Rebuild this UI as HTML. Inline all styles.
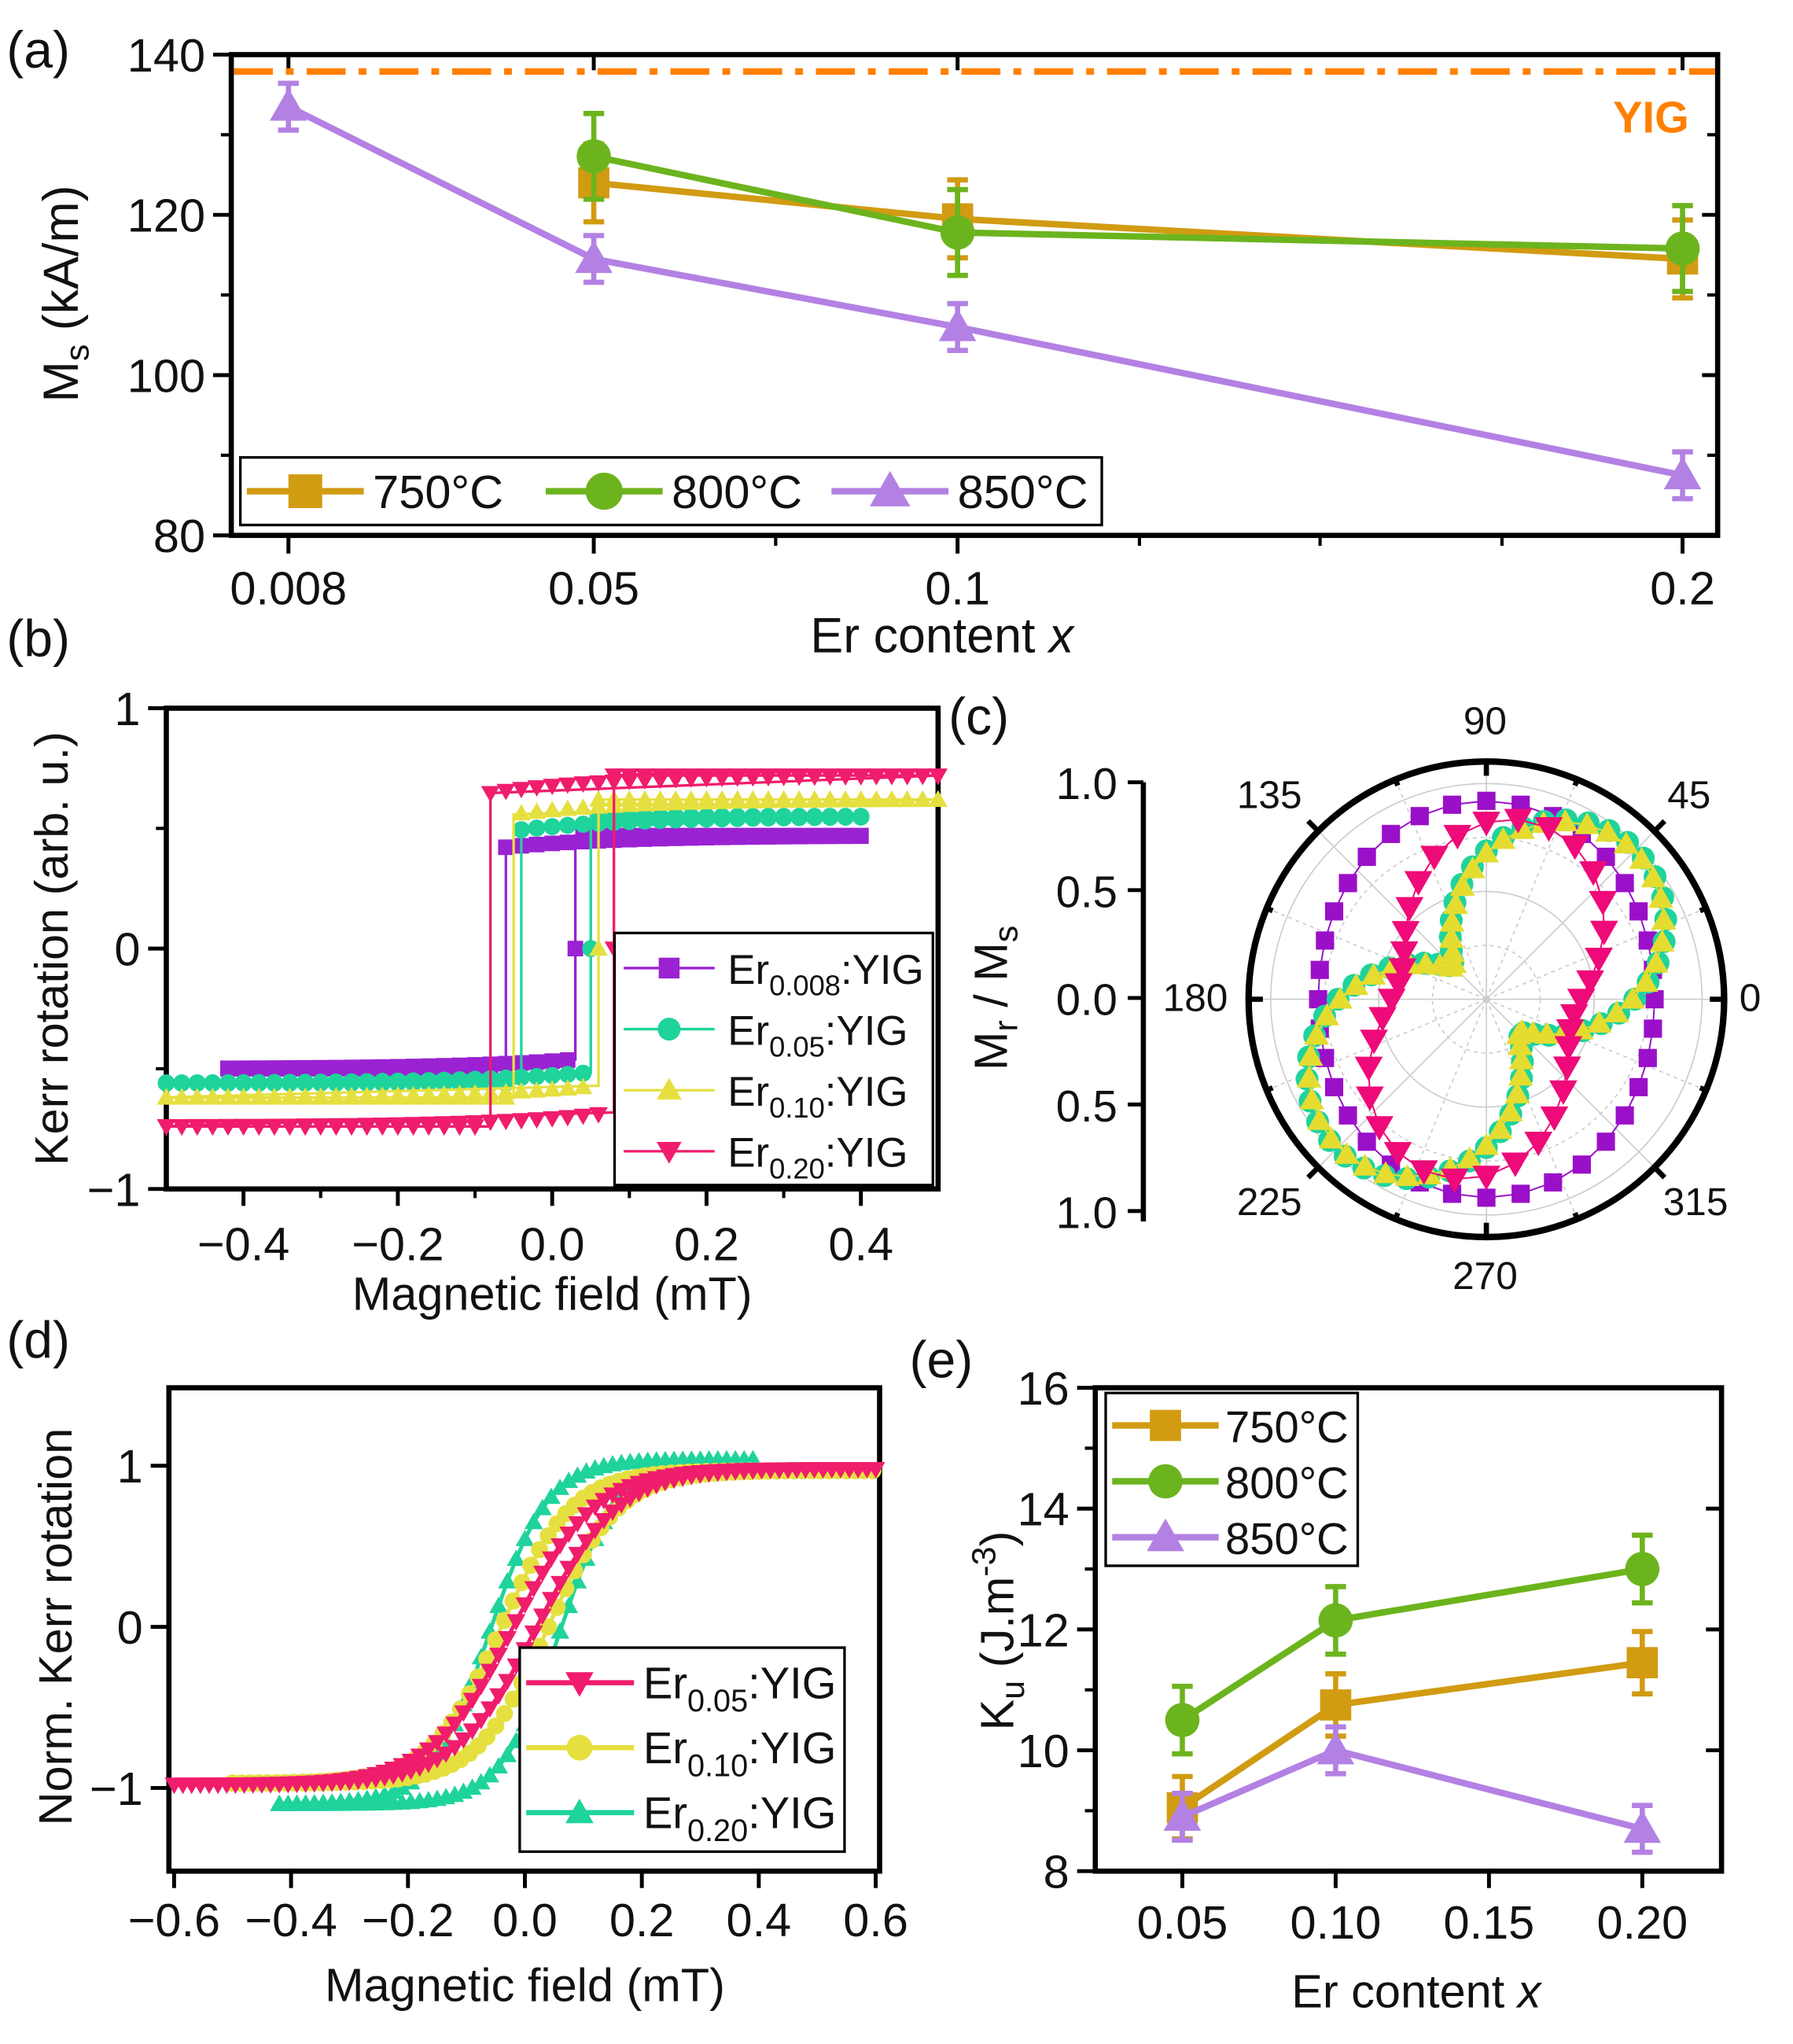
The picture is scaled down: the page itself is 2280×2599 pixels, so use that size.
<!DOCTYPE html>
<html><head><meta charset="utf-8"><style>
html,body{margin:0;padding:0;background:#fff;}
svg{display:block;font-family:"Liberation Sans",Arial,sans-serif;}
</style></head><body>
<svg id="s" width="2280" height="2599" viewBox="0 0 1380 1573" xmlns="http://www.w3.org/2000/svg"></svg>
<script>
const S=document.getElementById('s');
function E(t,a,txt){const e=document.createElementNS('http://www.w3.org/2000/svg',t);for(const k in a)e.setAttribute(k,a[k]);if(txt!==undefined)e.textContent=txt;S.appendChild(e);return e;}
function T(x,y,s,txt,anchor,extra){return E('text',Object.assign({x:x,y:y,'font-size':s,'text-anchor':anchor||'middle',fill:'#111'},extra||{}),txt);}
function L(x1,y1,x2,y2,c,w,extra){return E('line',Object.assign({x1,y1,x2,y2,stroke:c||'#000','stroke-width':w||3},extra||{}));}
function mk(type,x,y,r,c){
 if(type=='s')E('rect',{x:x-r,y:y-r,width:2*r,height:2*r,fill:c});
 else if(type=='c')E('circle',{cx:x,cy:y,r:r*1.1,fill:c});
 else if(type=='t')E('polygon',{points:`${x},${y-r*1.2} ${x-r*1.2},${y+r*0.9} ${x+r*1.2},${y+r*0.9}`,fill:c});
 else E('polygon',{points:`${x},${y+r*1.2} ${x-r*1.2},${y-r*0.9} ${x+r*1.2},${y-r*0.9}`,fill:c});
}
function poly(pts,c,w){E('polyline',{points:pts.map(p=>p.join(',')).join(' '),fill:'none',stroke:c,'stroke-width':w||2});}
function box(x1,y1,x2,y2,w){E('rect',{x:x1,y:y1,width:x2-x1,height:y2-y1,fill:'none',stroke:'#000','stroke-width':w||4});}
const GOLD='#d19b12',GRN='#6cb41e',PUR='#b381e3';
/* ===== (a) ===== */
T(5,52,40,'(a)','start');
const ay=v=>412-(v-80)*6.167;
box(178,42,1322,412);
[[222,'0.008'],[457,'0.05'],[737,'0.1'],[1295,'0.2']].forEach(([x,t])=>{L(x,412,x,426);L(x,42,x,54);T(x,465,36,t);});
[597,877,1016,1156].forEach(x=>{L(x,412,x,420,'#000',2.5);});
[80,100,120,140].forEach(v=>{L(164,ay(v),178,ay(v));L(1310,ay(v),1322,ay(v));T(158,ay(v)+13,36,String(v),'end');});
[90,110,130].forEach(v=>{L(170,ay(v),178,ay(v),'#000',2.5);L(1314,ay(v),1322,ay(v),'#000',2.5);});
L(180,55,1320,55,'#ff8000',5,{'stroke-dasharray':'30,10,6,10'});
T(1300,102,34,'YIG','end',{fill:'#ff8000','font-weight':'bold'});
E('text',{x:725,y:502,'font-size':38,'text-anchor':'middle',fill:'#111'}).innerHTML='Er content <tspan font-style="italic">x</tspan>';
E('text',{x:60,y:226,'font-size':38,'text-anchor':'middle',transform:'rotate(-90 60 226)',fill:'#111'}).innerHTML='M<tspan font-size="26" dy="8">s</tspan><tspan dy="-8"> (kA/m)</tspan>';
const xa=[457,737,1295];
function series(xs,ys,c,m,err){poly(xs.map((x,i)=>[x,ys[i]]),c,5);xs.forEach((x,i)=>{L(x,ys[i]-err,x,ys[i]+err,c,4);L(x-8,ys[i]-err,x+8,ys[i]-err,c,4);L(x-8,ys[i]+err,x+8,ys[i]+err,c,4);mk(m,x,ys[i],12,c);});}
series(xa,[124,119.5,114.5].map(ay),GOLD,'s',30);
series(xa,[127.3,117.8,115.8].map(ay),GRN,'c',33);
series([222,457,737,1295],[133.5,114.5,106,87.5].map(ay),PUR,'t',18);
E('rect',{x:185,y:352,width:663,height:52,fill:'#fff',stroke:'#000','stroke-width':2});
[[GOLD,'s','750°C',190],[GRN,'c','800°C',420],[PUR,'t','850°C',640]].forEach(([c,m,t,x])=>{L(x,378,x+90,378,c,5);mk(m,x+45,378,13,c);T(x+97,391,36,t,'start');});
/* ===== (b) ===== */
T(5,505,40,'(b)','start');
const bx=v=>425+v*594, by=v=>730-185*v;
box(128,545,722,915);
[-0.4,-0.2,0,0.2,0.4].forEach(v=>{L(bx(v),915,bx(v),928);T(bx(v),970,36,(v<0?'−':'')+Math.abs(v).toFixed(1));});
[-0.3,-0.1,0.1,0.3].forEach(v=>L(bx(v),915,bx(v),922,'#000',2.5));
[[1,'1'],[0,'0'],[-1,'−1']].forEach(([v,t])=>{L(114,by(v),128,by(v));T(108,by(v)+13,36,t,'end');});
[0.5,-0.5].forEach(v=>L(120,by(v),128,by(v),'#000',2.5));
T(425,1008,36,'Magnetic field (mT)');
E('text',{x:52,y:730,'font-size':36,'text-anchor':'middle',transform:'rotate(-90 52 730)',fill:'#111'},'Kerr rotation (arb. u.)');
const loops=[
 {c:'#9a22d2',m:'s',lo:-0.5,hi:0.47,up:0.03,dn:-0.06,a:-0.42,b:0.40},
 {c:'#1fd39c',m:'c',lo:-0.56,hi:0.55,up:0.05,dn:-0.04,a:-0.5,b:0.40},
 {c:'#e5e040',m:'t',lo:-0.62,hi:0.62,up:0.06,dn:-0.05,a:-0.5,b:0.5},
 {c:'#f01c6c',m:'d',lo:-0.74,hi:0.72,up:0.08,dn:-0.08,a:-0.5,b:0.5}];
loops.forEach(o=>{
 const hiv=x=>o.hi-(o.hi-o.lo)*0.05*Math.exp(-(x-o.dn)/0.15);
 const lov=x=>o.lo+(o.hi-o.lo)*0.04*Math.exp((x-o.up)/0.15);
 poly([[bx(o.a),by(lov(o.a))],[bx(o.up),by(lov(o.up))],[bx(o.up),by(o.hi)],[bx(o.b),by(o.hi)]],o.c,2);
 poly([[bx(o.b),by(o.hi)],[bx(o.dn),by(hiv(o.dn))],[bx(o.dn),by(o.lo)],[bx(o.a),by(o.lo)]],o.c,2);
 for(let x=o.a;x<=o.b+1e-6;x+=0.02){
  mk(o.m,bx(x),by(x<o.up?lov(x):o.hi),6,o.c);
  mk(o.m,bx(x),by(x>o.dn?hiv(x):o.lo),6,o.c);
 }
 mk(o.m,bx((o.up)),by(0),6,o.c);
});
E('rect',{x:473,y:718,width:245,height:194,fill:'#fff',stroke:'#000','stroke-width':2});
[['0.008',0],['0.05',1],['0.10',2],['0.20',3]].forEach(([t,i])=>{const o=loops[i],y=745+i*47;L(480,y,550,y,o.c,2);mk(o.m,515,y,8,o.c);
 E('text',{x:560,y:y+12,'font-size':32,fill:'#111'}).innerHTML='Er<tspan font-size="22" dy="9">'+t+'</tspan><tspan dy="-9">:YIG</tspan>';});
/* ===== (c) ===== */
T(730,565,40,'(c)','start');
const cx=1144,cy=769,R=166,RO=183;
L(880,602,880,940,'#000',4);
[[602,'1.0'],[685,'0.5'],[768,'0.0'],[850,'0.5'],[932,'1.0']].forEach(([y,t])=>{L(868,y,880,y);T(860,y+13,34,t,'end');});
E('text',{x:775,y:768,'font-size':36,'text-anchor':'middle',transform:'rotate(-90 775 768)',fill:'#111'}).innerHTML='M<tspan font-size="26" dy="8">r</tspan><tspan dy="-8"> / M</tspan><tspan font-size="26" dy="8">s</tspan>';
[0.25,0.5,0.75,1].forEach((f,i)=>E('circle',Object.assign({cx,cy,r:R*f,fill:'none',stroke:'#ccc','stroke-width':1},i%2==0?{'stroke-dasharray':'3,3'}:{})));
for(let a=0;a<360;a+=22.5){const r=a*Math.PI/180;L(cx,cy,cx+RO*Math.cos(r),cy-RO*Math.sin(r),'#ccc',1,(a%45==0)?{}:{'stroke-dasharray':'3,3'});}
E('circle',{cx,cy,r:RO,fill:'none',stroke:'#000','stroke-width':5});
for(let a=0;a<360;a+=22.5){const r=a*Math.PI/180,l=(a%90==0)?-11:((a%45==0)?11:-5);L(cx+RO*Math.cos(r),cy-RO*Math.sin(r),cx+(RO+l)*Math.cos(r),cy-(RO+l)*Math.sin(r),'#000',4);}
[[1143,565,'90'],[1300,622,'45'],[1347,778,'0'],[1305,935,'315'],[1143,992,'270'],[977,935,'225'],[920,778,'180'],[977,622,'135']].forEach(([x,y,t])=>T(x,y,30,t));
const D=Math.PI/180;
function pol(f,c,m,step,ms){const pts=[];for(let a=0;a<360;a+=step){const r=a*D,v=f(r);pts.push([cx+R*v*Math.cos(r),cy-R*v*Math.sin(r)]);}pts.push(pts[0]);poly(pts,c,1.2);pts.slice(0,-1).forEach(p=>mk(m,p[0],p[1],ms,c));}
pol(r=>0.85+0.07*Math.cos(2*(r-90*D)),'#9a10c8','s',10,7);
const gy=r=>0.22+0.76*Math.pow((1+Math.cos(2*(r-45*D)))/2,0.7);
pol(gy,'#1fd39c','c',6,8);
pol(r=>gy(r)-0.01,'#e5dc30','t',6,8);
pol(r=>0.63+0.22*Math.cos(2*(r-75*D)),'#ee0a78','d',10,9);
/* ===== (d) ===== */
T(5,1045,40,'(d)','start');
const dx=v=>404+v*450, dy=v=>1252-124*v;
box(130,1068,677,1440);
[-0.6,-0.4,-0.2,0,0.2,0.4,0.6].forEach(v=>{L(dx(v),1440,dx(v),1453);T(dx(v),1490,36,(v<0?'−':'')+Math.abs(v).toFixed(1));});
[1,0,-1].forEach(v=>{L(116,dy(v),130,dy(v));T(110,dy(v)+13,36,v<0?'−1':String(v),'end');});
T(404,1540,36,'Magnetic field (mT)');
E('text',{x:55,y:1252,'font-size':36,'text-anchor':'middle',transform:'rotate(-90 55 1252)',fill:'#111'},'Norm. Kerr rotation');
const ds=[
 {c:'#1fd39c',m:'t',A:1.07,w:0.1,h:0.06,a:-0.42,b:0.4,yo:-0.03},
 {c:'#e5e040',m:'c',A:0.97,w:0.12,h:0.04,a:-0.5,b:0.6,yo:0},
 {c:'#f01c6c',m:'d',A:0.98,w:0.14,h:0.02,a:-0.6,b:0.6,yo:0}];
ds.forEach(o=>{[1,-1].forEach(sg=>{const pts=[];for(let x=o.a;x<=o.b+1e-6;x+=0.015){pts.push([dx(x),dy(o.yo+o.A*Math.tanh((x-sg*o.h)/o.w))]);}poly(pts,o.c,3);pts.forEach(p=>mk(o.m,p[0],p[1],6,o.c));});});
E('rect',{x:400,y:1268,width:250,height:157,fill:'#fff',stroke:'#000','stroke-width':2});
[['0.05',2,1295],['0.10',1,1345],['0.20',0,1395]].forEach(([t,i,y])=>{const o=ds[i];L(405,y,488,y,o.c,4);mk(o.m,446,y,9,o.c);
 E('text',{x:495,y:y+12,'font-size':34,fill:'#111'}).innerHTML='Er<tspan font-size="24" dy="10">'+t+'</tspan><tspan dy="-10">:YIG</tspan>';});
/* ===== (e) ===== */
T(700,1060,40,'(e)','start');
const ex=v=>910+(v-0.05)*2360, ey=v=>1068+(16-v)*46.5;
box(843,1068,1325,1440);
[0.05,0.10,0.15,0.20].forEach(v=>{L(ex(v),1440,ex(v),1453);T(ex(v),1492,36,v.toFixed(2));});
[8,10,12,14,16].forEach(v=>{L(829,ey(v),843,ey(v));L(1313,ey(v),1325,ey(v));T(823,ey(v)+13,36,String(v),'end');});
[9,11,13,15].forEach(v=>L(835,ey(v),843,ey(v),'#000',2.5));
E('text',{x:1090,y:1545,'font-size':36,'text-anchor':'middle',fill:'#111'}).innerHTML='Er content <tspan font-style="italic">x</tspan>';
E('text',{x:780,y:1255,'font-size':36,'text-anchor':'middle',transform:'rotate(-90 780 1255)',fill:'#111'}).innerHTML='K<tspan font-size="26" dy="8">u</tspan><tspan dy="-8"> (J.m</tspan><tspan font-size="26" dy="-14">-3</tspan><tspan dy="14">)</tspan>';
const exs=[0.05,0.10,0.20].map(ex);
series(exs,[10.5,12.15,13.0].map(ey),GRN,'c',26);
series(exs,[9.05,10.75,11.45].map(ey),GOLD,'s',24);
series(exs,[8.9,10.0,8.7].map(ey),PUR,'t',18);
E('rect',{x:851,y:1072,width:194,height:133,fill:'#fff',stroke:'#000','stroke-width':2});
[[GOLD,'s','750°C',1097],[GRN,'c','800°C',1140],[PUR,'t','850°C',1183]].forEach(([c,m,t,y])=>{L(856,y,938,y,c,5);mk(m,897,y,12,c);T(943,y+13,34,t,'start');});
</script>
</body></html>
